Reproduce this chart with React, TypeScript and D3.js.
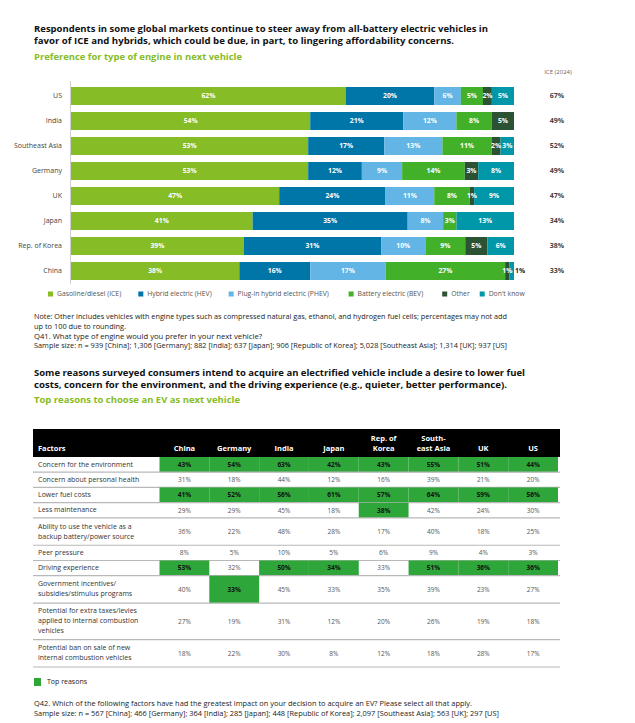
import React, { useEffect } from 'react';
import * as d3 from 'd3';

// ---- chart 1: preference for type of engine ----
const countries = ['US', 'India', 'Southeast Asia', 'Germany', 'UK', 'Japan', 'Rep. of Korea', 'China'];
const engineTypes = ['Gasoline/diesel (ICE)', 'Hybrid electric (HEV)', 'Plug-in hybrid electric (PHEV)', 'Battery electric (BEV)', 'Other', "Don't know"];
const iceShare = [62, 54, 53, 53, 47, 41, 39, 38];
const hevShare = [20, 21, 17, 12, 24, 35, 31, 16];
const phevShare = [6, 12, 13, 9, 11, 8, 10, 17];
const bevShare = [5, 8, 11, 14, 8, 3, 9, 27];
const otherShare = [2, 5, 2, 3, 1, 0, 5, 1];
const dontKnowShare = [5, 0, 3, 8, 9, 13, 6, 1];
const ice2024 = [67, 49, 52, 49, 47, 34, 38, 33];

const engineColors = ['#86bc25', '#0076a8', '#62b5e5', '#43b02a', '#2c5234', '#0097a9'];

// ---- chart 2: top reasons to choose an EV ----
const tableCountries = ['China', 'Germany', 'India', 'Japan', 'Rep. of\nKorea', 'South-\neast Asia', 'UK', 'US'];
const factors = [
  'Concern for the environment',
  'Concern about personal health',
  'Lower fuel costs',
  'Less maintenance',
  'Ability to use the vehicle as a\nbackup battery/power source',
  'Peer pressure',
  'Driving experience',
  'Government incentives/\nsubsidies/stimulus programs',
  'Potential for extra taxes/levies\napplied to internal combustion\nvehicles',
  'Potential ban on sale of new\ninternal combustion vehicles',
];
const factorValues = [
  [43, 54, 63, 42, 43, 55, 51, 44],
  [31, 18, 44, 12, 16, 39, 21, 20],
  [41, 52, 56, 61, 57, 64, 59, 56],
  [29, 29, 45, 18, 38, 42, 24, 30],
  [36, 22, 48, 28, 17, 40, 18, 25],
  [8, 5, 10, 5, 6, 9, 4, 3],
  [53, 32, 50, 34, 33, 51, 36, 36],
  [40, 33, 45, 33, 35, 39, 23, 27],
  [27, 19, 31, 12, 20, 26, 19, 18],
  [18, 22, 30, 8, 12, 18, 28, 17],
];
// column indexes flagged as "Top reasons"
const topCells = [
  [0, 1, 2, 3, 4, 5, 6, 7],
  [],
  [0, 1, 2, 3, 4, 5, 6, 7],
  [4],
  [],
  [],
  [0, 2, 3, 5, 6, 7],
  [1],
  [],
  [],
];

const FONT = '"Open Sans", "Noto Sans", Arial, sans-serif';
const TOP_GREEN = '#2ea63a';
const SUB_GREEN = '#86bc25';

const W = 635;
const H = 723;

function Lines({ x, y, lines, size, weight, fill, lengths, gap }: any) {
  return (
    <>
      {lines.map((t: string, i: number) => (
        <text
          key={i}
          x={x}
          y={y + i * gap}
          dy="0.35em"
          fontSize={size}
          fontWeight={weight}
          fill={fill}
          textLength={lengths ? lengths[i] : undefined}
          lengthAdjust="spacingAndGlyphs"
        >
          {t}
        </text>
      ))}
    </>
  );
}

export default function App() {
  useEffect(() => {
    document.body.style.margin = '0';
  }, []);

  // ---- bar chart scales ----
  const rows = countries.map((c, i) => ({
    country: c,
    [engineTypes[0]]: iceShare[i],
    [engineTypes[1]]: hevShare[i],
    [engineTypes[2]]: phevShare[i],
    [engineTypes[3]]: bevShare[i],
    [engineTypes[4]]: otherShare[i],
    [engineTypes[5]]: dontKnowShare[i],
  }));
  const stacked = d3.stack<any>().keys(engineTypes).offset(d3.stackOffsetExpand)(rows);
  const x = d3.scaleLinear().domain([0, 1]).range([71, 514]);
  const y = d3.scaleBand().domain(countries).range([83.5, 283.5]).paddingInner(0.28).paddingOuter(0.14);
  const color = d3.scaleOrdinal<string, string>().domain(engineTypes).range(engineColors);

  // legend layout (approx. text width per char)
  let lx = 48;
  const legendItems = engineTypes.map((t) => {
    const item = { t, x: lx };
    lx += 9 + t.length * 3.3 + 12;
    return item;
  });

  // ---- table scales ----
  const col = d3.scaleBand().domain(tableCountries).range([159.5, 558]);
  const lineCounts = factors.map((f) => f.split('\n').length);
  const units = lineCounts.map((n) => (n === 1 ? 1 : n === 2 ? 1.8 : 2.4));
  const cum = [0];
  units.forEach((u) => cum.push(cum[cum.length - 1] + u));
  const rowY = d3.scaleLinear().domain([0, cum[cum.length - 1]]).range([457, 667]);

  return (
    <div style={{ position: 'absolute', left: 0, top: 0 }}>
      <svg width={W} height={H} fontFamily={FONT} style={{ display: 'block', background: '#fff' }}>
        {/* titles */}
        <Lines
          x={34}
          y={28.5}
          gap={12}
          size={9.2}
          weight={700}
          fill="#111"
          lines={[
            'Respondents in some global markets continue to steer away from all-battery electric vehicles in',
            'favor of ICE and hybrids, which could be due, in part, to lingering affordability concerns.',
          ]}
          lengths={[454, 420]}
        />
        <Lines x={34} y={57} gap={0} size={9.5} weight={700} fill={SUB_GREEN} lines={['Preference for type of engine in next vehicle']} lengths={[208]} />
        <text x={558} y={72} dy="0.35em" fontSize={6} fill="#666" textAnchor="middle">ICE (2024)</text>

        {/* axis line */}
        <line x1={70.5} x2={70.5} y1={81} y2={284} stroke="#cfcfcf" strokeWidth={1} />

        {/* country labels */}
        {countries.map((c) => (
          <text key={c} x={62} y={(y(c) as number) + y.bandwidth() / 2} dy="0.35em" fontSize={7} fill="#444" textAnchor="end">
            {c}
          </text>
        ))}

        {/* bars */}
        {stacked.map((s) => (
          <g key={s.key} fill={color(s.key)}>
            {s.map((d, i) => {
              const w = x(d[1]) - x(d[0]);
              if (w <= 0) return null;
              return <rect key={i} x={x(d[0])} y={y(countries[i])} width={w} height={y.bandwidth()} />;
            })}
          </g>
        ))}
        {stacked.map((s, si) => (
          <g key={'l' + s.key}>
            {s.map((d, i) => {
              const v = (d.data as any)[s.key] as number;
              if (!v) return null;
              const w = x(d[1]) - x(d[0]);
              const cy = (y(countries[i]) as number) + y.bandwidth() / 2;
              const outside = si === engineTypes.length - 1 && w < 8;
              return (
                <text
                  key={i}
                  x={outside ? x(d[1]) + 1 : (x(d[0]) + x(d[1])) / 2}
                  y={cy}
                  dy="0.35em"
                  fontSize={6.8}
                  fontWeight={700}
                  fill={outside ? '#222' : '#fff'}
                  textAnchor={outside ? 'start' : 'middle'}
                >
                  {v}%
                </text>
              );
            })}
          </g>
        ))}

        {/* ICE 2024 column */}
        {countries.map((c, i) => (
          <text key={'ice' + c} x={557} y={(y(c) as number) + y.bandwidth() / 2} dy="0.35em" fontSize={7} fontWeight={700} fill="#444" textAnchor="middle">
            {ice2024[i]}%
          </text>
        ))}

        {/* legend */}
        {legendItems.map((it) => (
          <g key={it.t}>
            <rect x={it.x} y={291.5} width={5} height={5} fill={color(it.t)} />
            <text x={it.x + 9} y={294} dy="0.35em" fontSize={6.8} fill="#555">{it.t}</text>
          </g>
        ))}

        {/* notes */}
        <Lines
          x={34}
          y={317}
          gap={9.6}
          size={7}
          weight={400}
          fill="#222"
          lines={[
            'Note: Other includes vehicles with engine types such as compressed natural gas, ethanol, and hydrogen fuel cells; percentages may not add',
            'up to 100 due to rounding.',
            'Q41. What type of engine would you prefer in your next vehicle?',
            'Sample size: n = 939 [China]; 1,306 [Germany]; 882 [India]; 637 [Japan]; 906 [Republic of Korea]; 5,028 [Southeast Asia]; 1,314 [UK]; 937 [US]',
          ]}
          lengths={[473, 92, 228, 473]}
        />

        {/* second titles */}
        <Lines
          x={34}
          y={372.5}
          gap={12}
          size={9.2}
          weight={700}
          fill="#111"
          lines={[
            'Some reasons surveyed consumers intend to acquire an electrified vehicle include a desire to lower fuel',
            'costs, concern for the environment, and the driving experience (e.g., quieter, better performance).',
          ]}
          lengths={[491, 473]}
        />
        <Lines x={34} y={400} gap={0} size={9.5} weight={700} fill={SUB_GREEN} lines={['Top reasons to choose an EV as next vehicle']} lengths={[206]} />

        {/* table header */}
        <rect x={33} y={429} width={527} height={28} fill="#000" />
        <text x={38} y={450} dy="0.1em" fontSize={7.5} fontWeight={700} fill="#fff">Factors</text>
        {tableCountries.map((c) => {
          const parts = c.split('\n');
          const cx = (col(c) as number) + col.bandwidth() / 2;
          return parts.map((p, j) => (
            <text key={c + j} x={cx} y={450 - (parts.length - 1 - j) * 10} dy="0.1em" fontSize={7.5} fontWeight={700} fill="#fff" textAnchor="middle">
              {p}
            </text>
          ));
        })}

        {/* table body */}
        {factors.map((f, r) => {
          const y0 = rowY(cum[r]);
          const y1 = rowY(cum[r + 1]);
          const mid = (y0 + y1) / 2;
          const lines = f.split('\n');
          return (
            <g key={f}>
              {tableCountries.map((c, ci) => {
                const top = topCells[r].includes(ci);
                const cx = (col(c) as number) + col.bandwidth() / 2;
                return (
                  <g key={c}>
                    {top && <rect x={col(c)} y={y0} width={col.bandwidth()} height={y1 - y0} fill={TOP_GREEN} />}
                    <text
                      x={cx}
                      y={mid}
                      dy="0.35em"
                      fontSize={6.5}
                      fontWeight={top ? 700 : 400}
                      fill={top ? '#111' : '#555'}
                      textAnchor="middle"
                    >
                      {factorValues[r][ci]}%
                    </text>
                  </g>
                );
              })}
              {lines.map((t, j) => (
                <text key={j} x={38} y={mid - ((lines.length - 1) * 10) / 2 + j * 10 - 0.5} dy="0.35em" fontSize={7} fill="#333">
                  {t}
                </text>
              ))}
              <line x1={33} x2={560} y1={y1} y2={y1} stroke="#b8b8b8" strokeWidth={1.2} />
            </g>
          );
        })}

        {/* top reasons legend */}
        <rect x={34} y={678} width={7} height={8} fill={TOP_GREEN} />
        <text x={47} y={682} dy="0.35em" fontSize={7} fill="#222">Top reasons</text>

        {/* footnote */}
        <Lines
          x={34}
          y={704}
          gap={9.4}
          size={7}
          weight={400}
          fill="#222"
          lines={[
            'Q42. Which of the following factors have had the greatest impact on your decision to acquire an EV? Please select all that apply.',
            'Sample size: n = 567 [China]; 466 [Germany]; 364 [India]; 285 [Japan]; 448 [Republic of Korea]; 2,097 [Southeast Asia]; 563 [UK]; 297 [US]',
          ]}
          lengths={[438, 465]}
        />
      </svg>
    </div>
  );
}
